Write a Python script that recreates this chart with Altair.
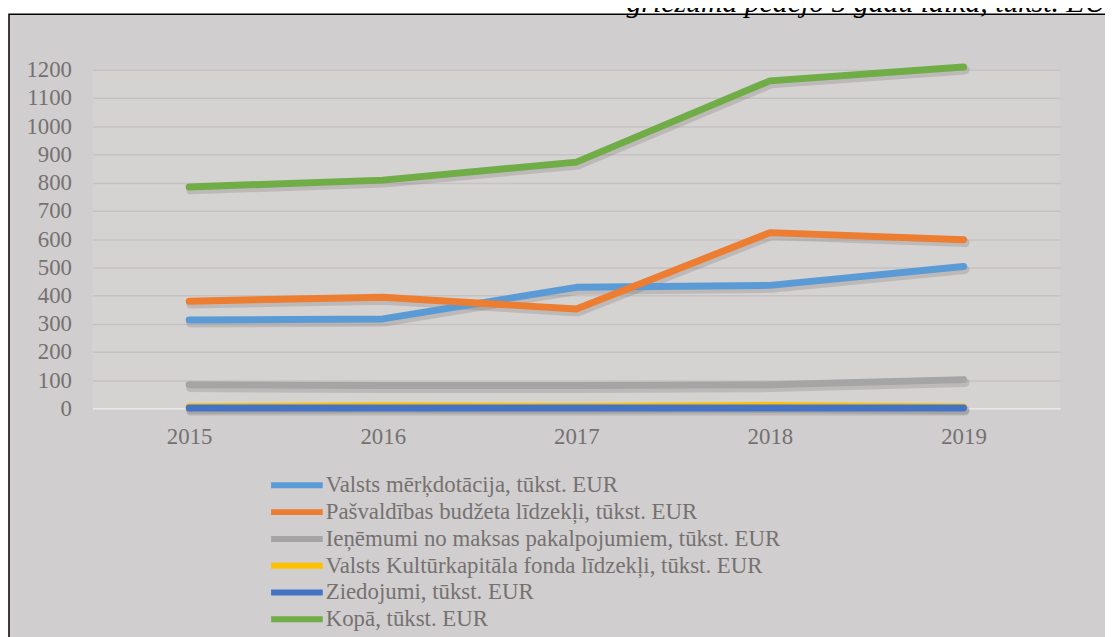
import altair as alt
import pandas as pd

years = ["2015", "2016", "2017", "2018", "2019"]
series = [
    "Valsts mērķdotācija, tūkst. EUR",
    "Pašvaldības budžeta līdzekļi, tūkst. EUR",
    "Ieņēmumi no maksas pakalpojumiem,  tūkst. EUR",
    "Valsts Kultūrkapitāla fonda līdzekļi,  tūkst. EUR",
    "Ziedojumi, tūkst. EUR",
    "Kopā, tūkst. EUR",
]
valsts = [313, 317, 429, 436, 503]
pasvaldibas = [380, 394, 352, 623, 598]
ienemumi = [84, 81, 81, 84, 102]
vkkf = [6, 9, 7, 10, 5]
ziedojumi = [1, 1, 1, 1, 1]
kopa = [785, 809, 873, 1161, 1210]
colors = ["#5b9bd5", "#ed7d31", "#a5a5a5", "#ffc000", "#4472c4", "#70ad47"]
y_ticks = list(range(0, 1201, 100))
top_text = "griezumā pēdējo 5 gadu laikā, tūkst. EUR"

rows = []
for name, vals in zip(series, [valsts, pasvaldibas, ienemumi, vkkf, ziedojumi, kopa]):
    for yr, v in zip(years, vals):
        rows.append({"year": yr, "value": v, "series": name})
df = pd.DataFrame(rows)

W, H = 975, 341
FONT = "Times New Roman, Liberation Serif, serif"
TXT = "#767171"
FS = 23

x_enc = alt.X("year:O", title=None,
              axis=alt.Axis(labelAngle=0, ticks=False, domainColor="#e8e6e6", domainWidth=2,
                            labelPadding=17, grid=False))
y_enc = alt.Y("value:Q", title=None, scale=alt.Scale(domain=[0, 1200], nice=False),
              axis=alt.Axis(values=y_ticks, format="d", ticks=False, domain=False,
                            labelPadding=21, gridColor="#c6c2c2", gridWidth=1.5))

base = alt.Chart(df)

shadow = base.mark_line(color="#6f6b6b", opacity=0.24, strokeWidth=9, strokeCap="round",
                        xOffset=1.5, yOffset=3).encode(
    x=x_enc, y=y_enc, detail="series:N")

lines = base.mark_line(strokeWidth=7, strokeCap="round", strokeJoin="round").encode(
    x=x_enc, y=y_enc,
    color=alt.Color("series:N", scale=alt.Scale(domain=series, range=colors),
                    sort=series,
                    legend=alt.Legend(title=None, orient="none", legendX=192.5, legendY=405,
                                      symbolType="M-2.5,0H2.5", symbolSize=433,
                                      symbolStrokeWidth=6, labelOffset=15.5, rowPadding=1,
                                      labelLimit=600, direction="vertical")),
)

one = pd.DataFrame({"a": [0]})
white_top = alt.Chart(one).mark_rect(color="white").encode(
    x=alt.value(-90), x2=alt.value(1100), y=alt.value(-70), y2=alt.value(-56))
white_left = alt.Chart(one).mark_rect(color="white").encode(
    x=alt.value(-90), x2=alt.value(-84), y=alt.value(-70), y2=alt.value(700))
border = alt.Chart(one).mark_rect(fill=None, stroke="black", strokeWidth=1.5, filled=False).encode(
    x=alt.value(-84), x2=alt.value(1100), y=alt.value(-56), y2=alt.value(700))
title_txt = alt.Chart(one).mark_text(font=FONT, fontSize=30, fontStyle="italic", align="left",
                                     baseline="alphabetic", color="black").encode(
    x=alt.value(538), y=alt.value(-58), text=alt.value(top_text))

chart = alt.layer(shadow, lines, white_top, white_left, border, title_txt).properties(
    width=W, height=H,
    padding={"left": 85, "top": 60, "right": 45, "bottom": 228},
    autosize=alt.AutoSizeParams(type="none"),
).configure(background="#d0cece").configure_view(
    fill="#d5d2d2", stroke=None
).configure_axis(
    labelFont=FONT, labelFontSize=FS, labelColor=TXT
).configure_legend(
    labelFont=FONT, labelFontSize=FS, labelColor=TXT
)

chart.save("out.html", embed_options={"renderer": "svg", "actions": False})
